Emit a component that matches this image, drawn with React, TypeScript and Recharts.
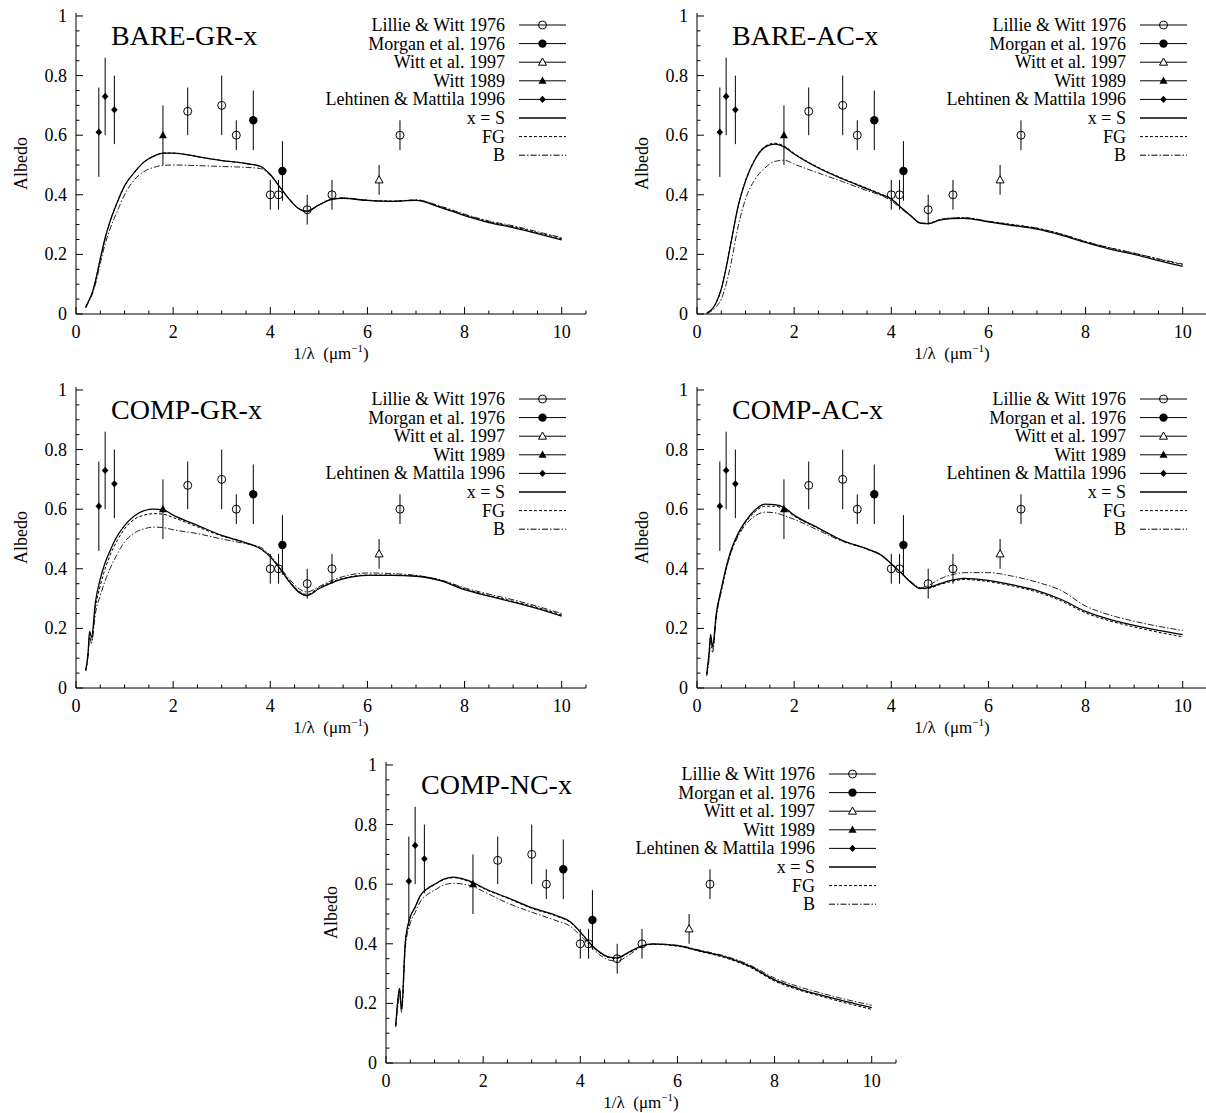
import React from "react";
import {
  ComposedChart,
  Line,
  Scatter,
  ErrorBar,
  XAxis,
  YAxis,
  Customized,
} from "recharts";

const FONT = '"Liberation Serif", "Times New Roman", serif';

// 1/lambda grid of the model curves
const invLambda = [
  0.2, 0.25, 0.28, 0.32, 0.4, 0.5, 0.6, 0.7, 0.85, 1.0, 1.2, 1.4, 1.6, 1.8,
  2.0, 2.5, 3.0, 3.5, 3.8, 4.0, 4.2, 4.4, 4.6, 4.75, 5.0, 5.25, 5.5, 6.0, 6.5,
  7.0, 7.5, 8.0, 8.5, 9.0, 9.5, 10.0,
];

// BARE-GR-x
const bareGrS = [
  0.022, 0.04, 0.05, 0.065, 0.11, 0.185, 0.255, 0.31, 0.375, 0.43, 0.475, 0.51,
  0.53, 0.54, 0.54, 0.528, 0.515, 0.505, 0.495, 0.468, 0.425, 0.383, 0.352,
  0.345, 0.366, 0.384, 0.388, 0.381, 0.378, 0.381, 0.358, 0.33, 0.307, 0.29,
  0.27, 0.249,
];
const bareGrFG = [
  0.022, 0.04, 0.05, 0.065, 0.11, 0.185, 0.255, 0.31, 0.375, 0.43, 0.475, 0.51,
  0.53, 0.54, 0.54, 0.528, 0.515, 0.505, 0.495, 0.468, 0.425, 0.383, 0.352,
  0.345, 0.366, 0.385, 0.389, 0.382, 0.379, 0.382, 0.36, 0.333, 0.31, 0.293,
  0.273, 0.253,
];
const bareGrB = [
  0.022, 0.037, 0.047, 0.06, 0.1, 0.17, 0.235, 0.285, 0.345, 0.4, 0.45, 0.478,
  0.492, 0.499, 0.5, 0.498, 0.495, 0.492, 0.488, 0.465, 0.425, 0.385, 0.352,
  0.343, 0.365, 0.385, 0.39, 0.381, 0.378, 0.383, 0.362, 0.335, 0.312, 0.296,
  0.276, 0.256,
];

// BARE-AC-x
const bareAcS = [
  0.003, 0.008, 0.012, 0.018, 0.04, 0.084, 0.155, 0.24, 0.364, 0.447, 0.52,
  0.56, 0.57, 0.56, 0.537, 0.49, 0.453, 0.42, 0.4, 0.386, 0.357, 0.33, 0.305,
  0.303, 0.315, 0.32, 0.321, 0.309, 0.297, 0.285, 0.265, 0.24, 0.218, 0.2,
  0.179, 0.16,
];
const bareAcFG = [
  0.003, 0.008, 0.012, 0.018, 0.04, 0.084, 0.155, 0.24, 0.364, 0.448, 0.522,
  0.563, 0.573, 0.563, 0.539, 0.492, 0.455, 0.422, 0.402, 0.387, 0.358, 0.331,
  0.306, 0.304, 0.317, 0.322, 0.323, 0.311, 0.3, 0.288, 0.268, 0.243, 0.222,
  0.204, 0.184, 0.165,
];
const bareAcB = [
  0.002, 0.005, 0.008, 0.012, 0.025, 0.05, 0.1, 0.17, 0.296, 0.386, 0.453,
  0.49, 0.512, 0.516, 0.503, 0.473, 0.444, 0.414, 0.397, 0.38, 0.354, 0.328,
  0.305, 0.304, 0.316, 0.322, 0.323, 0.311, 0.299, 0.288, 0.268, 0.243, 0.222,
  0.204, 0.185, 0.168,
];

// COMP-GR-x
const compGrS = [
  0.058, 0.12, 0.19, 0.17, 0.288, 0.366, 0.42, 0.46, 0.51, 0.545, 0.577, 0.595,
  0.6, 0.598, 0.58, 0.546, 0.512, 0.487, 0.467, 0.44, 0.4, 0.355, 0.32, 0.31,
  0.333, 0.352, 0.366, 0.378, 0.378, 0.375, 0.36, 0.33, 0.308, 0.288, 0.266,
  0.241,
];
const compGrFG = [
  0.058, 0.115, 0.18, 0.16, 0.27, 0.344, 0.4, 0.445, 0.495, 0.534, 0.566, 0.58,
  0.585, 0.583, 0.572, 0.541, 0.51, 0.487, 0.467, 0.44, 0.402, 0.358, 0.324,
  0.314, 0.336, 0.355, 0.368, 0.379, 0.379, 0.376, 0.362, 0.333, 0.311, 0.291,
  0.27, 0.245,
];
const compGrB = [
  0.06, 0.11, 0.17, 0.15, 0.25, 0.31, 0.36, 0.4, 0.45, 0.49, 0.52, 0.534, 0.54,
  0.538, 0.531, 0.518, 0.5, 0.484, 0.472, 0.445, 0.405, 0.364, 0.332, 0.322,
  0.34, 0.36, 0.374, 0.386, 0.384, 0.378, 0.363, 0.336, 0.315, 0.296, 0.274,
  0.25,
];

// COMP-AC-x
const compAcS = [
  0.047, 0.12, 0.18, 0.14, 0.254, 0.333, 0.405, 0.462, 0.52, 0.56, 0.598,
  0.617, 0.615, 0.605, 0.58, 0.537, 0.495, 0.467, 0.445, 0.417, 0.387, 0.355,
  0.334, 0.336, 0.35, 0.362, 0.368, 0.361, 0.346, 0.327, 0.297, 0.257, 0.23,
  0.21, 0.193, 0.179,
];
const compAcFG = [
  0.045, 0.115, 0.17, 0.13, 0.245, 0.325, 0.398, 0.455, 0.515, 0.555, 0.592,
  0.61, 0.61, 0.6, 0.577, 0.535, 0.493, 0.466, 0.444, 0.416, 0.386, 0.354,
  0.333, 0.334, 0.347, 0.358, 0.364, 0.357, 0.342, 0.322, 0.292, 0.252, 0.225,
  0.205, 0.187, 0.172,
];
const compAcB = [
  0.04, 0.1, 0.16, 0.12, 0.24, 0.325, 0.4, 0.455, 0.51, 0.548, 0.578, 0.59,
  0.588, 0.578, 0.566, 0.529, 0.492, 0.467, 0.446, 0.417, 0.388, 0.358, 0.337,
  0.343, 0.366, 0.38, 0.387, 0.387, 0.375, 0.355, 0.327, 0.275, 0.245, 0.224,
  0.207, 0.193,
];

// COMP-NC-x
const compNcS = [
  0.125, 0.22, 0.25, 0.18, 0.41, 0.49, 0.523, 0.56, 0.585, 0.6, 0.618, 0.624,
  0.617, 0.605, 0.588, 0.555, 0.521, 0.495, 0.473, 0.44, 0.402, 0.372, 0.355,
  0.353, 0.372, 0.392, 0.4, 0.394, 0.375, 0.355, 0.324, 0.279, 0.249, 0.226,
  0.205, 0.186,
];
const compNcFG = [
  0.125, 0.22, 0.25, 0.18, 0.41, 0.49, 0.522, 0.558, 0.583, 0.598, 0.616,
  0.622, 0.615, 0.603, 0.586, 0.553, 0.519, 0.493, 0.471, 0.438, 0.4, 0.37,
  0.353, 0.351, 0.37, 0.39, 0.398, 0.392, 0.373, 0.352, 0.321, 0.275, 0.245,
  0.222, 0.2, 0.18,
];
const compNcB = [
  0.12, 0.2, 0.23, 0.17, 0.39, 0.47, 0.505, 0.54, 0.565, 0.58, 0.598, 0.603,
  0.6, 0.592, 0.576, 0.537, 0.506, 0.478, 0.458, 0.428, 0.394, 0.363, 0.345,
  0.342, 0.362, 0.39, 0.399, 0.395, 0.377, 0.358, 0.328, 0.285, 0.256, 0.233,
  0.212, 0.194,
];

// observations
const lillieX = [2.3, 3.0, 3.3, 4.0, 4.17, 4.76, 5.27, 6.67];
const lillieY = [0.68, 0.7, 0.6, 0.4, 0.4, 0.35, 0.4, 0.6];
const lillieErr = [0.08, 0.1, 0.05, 0.05, 0.05, 0.05, 0.05, 0.05];
const morganX = [3.65, 4.25];
const morganY = [0.65, 0.48];
const morganErr = [0.1, 0.1];
const witt97X = [6.24];
const witt97Y = [0.45];
const witt97Err = [0.05];
const witt89X = [1.79];
const witt89Y = [0.6];
const witt89Err = [0.1];
const lehtX = [0.47, 0.6, 0.79];
const lehtY = [0.61, 0.73, 0.685];
const lehtErr = [0.15, 0.13, 0.115];

const keyLabels = [
  "Lillie & Witt 1976",
  "Morgan et al. 1976",
  "Witt et al. 1997",
  "Witt 1989",
  "Lehtinen & Mattila 1996",
  "x = S",
  "FG",
  "B",
];

const xMinor = Array.from({ length: 22 }, (_, i) => i * 0.5);
const yMinor = Array.from({ length: 21 }, (_, i) => Math.round(i * 5) / 100);

const W = 600;
const H = 372;
const M = { top: 13, right: 14, left: 0, bottom: 13 };
const YW = 76;
const XH = 45;
const PL = M.left + YW;
const PR = W - M.right;
const PT = M.top;
const PB = H - M.bottom - XH;

const FG_DASH = "3 2";
const B_DASH = "6 2 1.5 2";

const curve = (ys: number[]) => invLambda.map((x, i) => ({ x, y: ys[i] }));
const points = (xs: number[], ys: number[], es: number[]) =>
  xs.map((x, i) => ({ x, y: ys[i], err: es[i] }));

const isMajor = (v: number, step: number) =>
  Math.abs(v / step - Math.round(v / step)) < 1e-6;

const BottomTick = (props: any) => {
  const { x, y, payload } = props;
  const v = payload.value;
  const major = isMajor(v, 2);
  return (
    <g>
      <line x1={x} x2={x} y1={y} y2={y - (major ? 7 : 3.5)} stroke="#000" />
      {major && (
        <text x={x} y={y + 24} textAnchor="middle" fontSize={18} fontFamily={FONT} fill="#000">
          {v}
        </text>
      )}
    </g>
  );
};

const TopTick = (props: any) => {
  const { x, y, payload } = props;
  const major = isMajor(payload.value, 2);
  return <line x1={x} x2={x} y1={y} y2={y + (major ? 7 : 3.5)} stroke="#000" />;
};

const LeftTick = (props: any) => {
  const { x, y, payload } = props;
  const v = payload.value;
  const major = isMajor(v, 0.2);
  return (
    <g>
      <line x1={x} x2={x + (major ? 7 : 3.5)} y1={y} y2={y} stroke="#000" />
      {major && (
        <text x={x - 9} y={y + 6} textAnchor="end" fontSize={18} fontFamily={FONT} fill="#000">
          {Math.round(v * 10) / 10}
        </text>
      )}
    </g>
  );
};

const RightTick = (props: any) => {
  const { x, y, payload } = props;
  const major = isMajor(payload.value, 0.2);
  return <line x1={x} x2={x - (major ? 7 : 3.5)} y1={y} y2={y} stroke="#000" />;
};

const OpenCircle = (p: any) => (
  <circle cx={p.cx} cy={p.cy} r={4} fill="none" stroke="#000" strokeWidth={1} />
);
const FilledCircle = (p: any) => <circle cx={p.cx} cy={p.cy} r={4.2} fill="#000" />;
const OpenTriangle = (p: any) => (
  <path
    d={`M${p.cx},${p.cy - 4.2}L${p.cx + 4},${p.cy + 3}L${p.cx - 4},${p.cy + 3}Z`}
    fill="#fff"
    stroke="#000"
    strokeWidth={1}
  />
);
const FilledTriangle = (p: any) => (
  <path
    d={`M${p.cx},${p.cy - 4.2}L${p.cx + 4},${p.cy + 3}L${p.cx - 4},${p.cy + 3}Z`}
    fill="#000"
  />
);
const Diamond = (p: any) => (
  <path
    d={`M${p.cx},${p.cy - 3.6}L${p.cx + 3.3},${p.cy}L${p.cx},${p.cy + 3.6}L${p.cx - 3.3},${p.cy}Z`}
    fill="#000"
  />
);

const keyMarkers = [OpenCircle, FilledCircle, OpenTriangle, FilledTriangle, Diamond];

const Decor = ({ title }: { title: string }) => {
  const rowY = (i: number) => PT + 12 + i * 18.6;
  const textRight = PR - 81;
  const lx1 = PR - 67;
  const lx2 = PR - 20;
  const mx = (lx1 + lx2) / 2;
  return (
    <g fontFamily={FONT} fill="#000">
      <text x={PL + 35} y={PT + 32} fontSize={28}>
        {title}
      </text>
      {keyLabels.map((label, i) => {
        const y = rowY(i);
        const Marker = keyMarkers[i];
        return (
          <g key={label}>
            <text x={textRight} y={y + 6} textAnchor="end" fontSize={18}>
              {label}
            </text>
            <line
              x1={lx1}
              x2={lx2}
              y1={y}
              y2={y}
              stroke="#000"
              strokeWidth={i === 5 ? 1.3 : 1}
              strokeDasharray={i === 6 ? FG_DASH : i === 7 ? B_DASH : undefined}
            />
            {Marker && <Marker cx={mx} cy={y} />}
          </g>
        );
      })}
      <text
        x={21}
        y={(PT + PB) / 2}
        transform={`rotate(-90 21 ${(PT + PB) / 2})`}
        textAnchor="middle"
        dominantBaseline="central"
        fontSize={18}
      >
        Albedo
      </text>
      <text x={(PL + PR) / 2} y={PB + 45} textAnchor="middle" fontSize={17}>
        1/λ{"\u00a0\u00a0"}(μm<tspan dy={-7} fontSize={11}>−1</tspan>
        <tspan dy={7}>)</tspan>
      </text>
    </g>
  );
};

type PanelProps = { title: string; s: number[]; fg: number[]; b: number[] };

const AlbedoPanel = ({ title, s, fg, b }: PanelProps) => (
  <ComposedChart width={W} height={H} margin={M}>
    <XAxis
      xAxisId={0}
      dataKey="x"
      type="number"
      domain={[0, 10.5]}
      allowDataOverflow
      ticks={xMinor}
      interval={0}
      tick={<BottomTick />}
      tickLine={false}
      tickSize={0}
      tickMargin={0}
      height={XH}
      axisLine={{ stroke: "#000" }}
    />
    <XAxis
      xAxisId="top"
      orientation="top"
      type="number"
      domain={[0, 10.5]}
      allowDataOverflow
      ticks={xMinor}
      interval={0}
      tick={<TopTick />}
      tickLine={false}
      tickSize={0}
      tickMargin={0}
      height={0}
      axisLine={{ stroke: "#000" }}
    />
    <YAxis
      yAxisId={0}
      dataKey="y"
      type="number"
      domain={[0, 1.01]}
      allowDataOverflow
      ticks={yMinor}
      interval={0}
      tick={<LeftTick />}
      tickLine={false}
      tickSize={0}
      tickMargin={0}
      width={YW}
      axisLine={{ stroke: "#000" }}
    />
    <YAxis
      yAxisId="right"
      orientation="right"
      type="number"
      domain={[0, 1.01]}
      allowDataOverflow
      ticks={yMinor}
      interval={0}
      tick={<RightTick />}
      tickLine={false}
      tickSize={0}
      tickMargin={0}
      width={0}
      axisLine={{ stroke: "#000" }}
    />
    <Line data={curve(b)} dataKey="y" type="monotone" dot={false} stroke="#222" strokeWidth={1} strokeDasharray={B_DASH} isAnimationActive={false} />
    <Line data={curve(fg)} dataKey="y" type="monotone" dot={false} stroke="#000" strokeWidth={1} strokeDasharray={FG_DASH} isAnimationActive={false} />
    <Line data={curve(s)} dataKey="y" type="monotone" dot={false} stroke="#000" strokeWidth={1.3} isAnimationActive={false} />
    <Scatter data={points(lillieX, lillieY, lillieErr)} shape={OpenCircle} isAnimationActive={false}>
      <ErrorBar dataKey="err" direction="y" width={0} stroke="#000" strokeWidth={1} />
    </Scatter>
    <Scatter data={points(morganX, morganY, morganErr)} shape={FilledCircle} isAnimationActive={false}>
      <ErrorBar dataKey="err" direction="y" width={0} stroke="#000" strokeWidth={1} />
    </Scatter>
    <Scatter data={points(witt97X, witt97Y, witt97Err)} shape={OpenTriangle} isAnimationActive={false}>
      <ErrorBar dataKey="err" direction="y" width={0} stroke="#000" strokeWidth={1} />
    </Scatter>
    <Scatter data={points(witt89X, witt89Y, witt89Err)} shape={FilledTriangle} isAnimationActive={false}>
      <ErrorBar dataKey="err" direction="y" width={0} stroke="#000" strokeWidth={1} />
    </Scatter>
    <Scatter data={points(lehtX, lehtY, lehtErr)} shape={Diamond} isAnimationActive={false}>
      <ErrorBar dataKey="err" direction="y" width={0} stroke="#000" strokeWidth={1} />
    </Scatter>
    <Customized component={<Decor title={title} />} />
  </ComposedChart>
);

const panels = [
  { title: "BARE-GR-x", s: bareGrS, fg: bareGrFG, b: bareGrB, left: 0, top: 0 },
  { title: "BARE-AC-x", s: bareAcS, fg: bareAcFG, b: bareAcB, left: 621, top: 0 },
  { title: "COMP-GR-x", s: compGrS, fg: compGrFG, b: compGrB, left: 0, top: 374 },
  { title: "COMP-AC-x", s: compAcS, fg: compAcFG, b: compAcB, left: 621, top: 374 },
  { title: "COMP-NC-x", s: compNcS, fg: compNcFG, b: compNcB, left: 310, top: 749 },
];

export default function App() {
  return (
    <div
      style={{
        position: "absolute",
        left: 0,
        top: 0,
        width: 1206,
        height: 1113,
        overflow: "hidden",
        background: "#fff",
      }}
    >
      {panels.map((p) => (
        <div key={p.title} style={{ position: "absolute", left: p.left, top: p.top }}>
          <AlbedoPanel title={p.title} s={p.s} fg={p.fg} b={p.b} />
        </div>
      ))}
    </div>
  );
}
